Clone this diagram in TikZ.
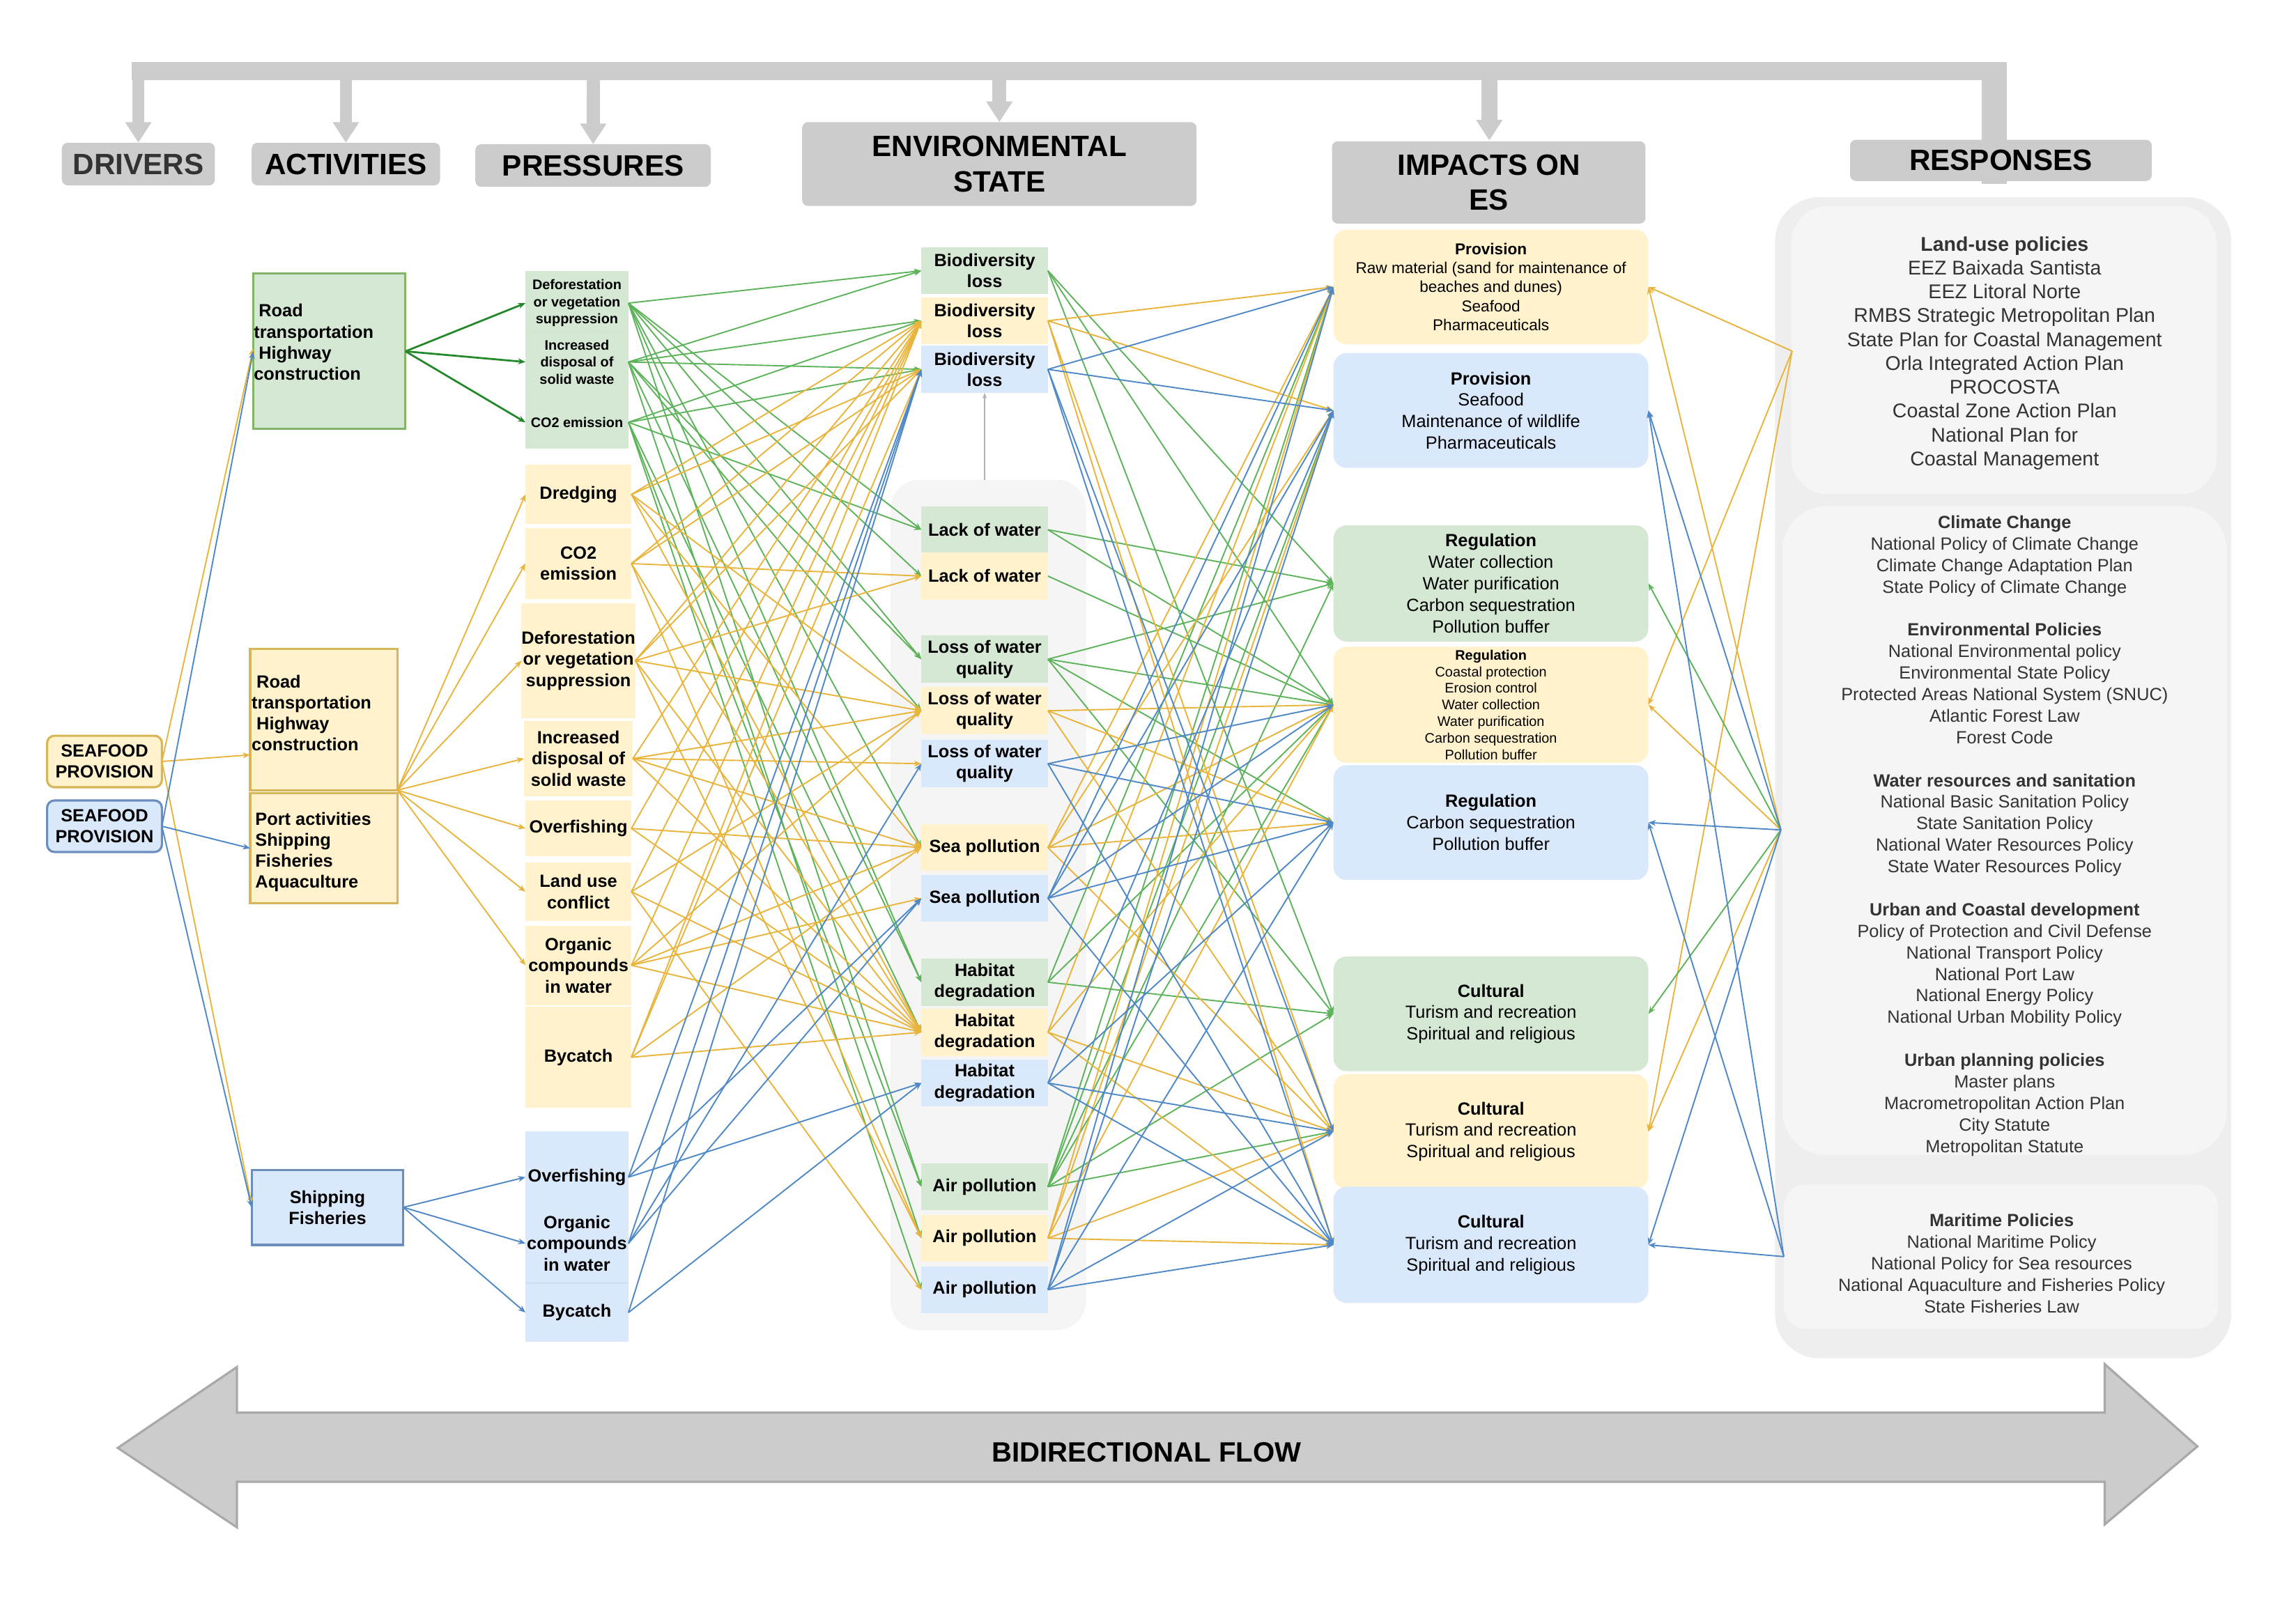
\documentclass[tikz,border=0pt]{standalone}
\usepackage{fontspec}
\setmainfont{Liberation Sans}
\usetikzlibrary{arrows.meta,calc}
\newcommand\myfs[2]{\fontsize{#1}{#2}\selectfont}
\definecolor{gfill}{HTML}{D5E8D4}
\definecolor{gdraw}{HTML}{82B366}
\definecolor{yfill}{HTML}{FFF2CC}
\definecolor{ydraw}{HTML}{D6B656}
\definecolor{bfill}{HTML}{DAE8FC}
\definecolor{bdraw}{HTML}{6C8EBF}
\definecolor{gln}{HTML}{5DB35A}
\definecolor{yln}{HTML}{E8B43C}
\definecolor{bln}{HTML}{4F88C6}
\definecolor{dgln}{HTML}{22882A}
\definecolor{hdrc}{HTML}{CCCCCC}
\definecolor{resout}{HTML}{EEEEEE}
\definecolor{resin}{HTML}{F5F5F5}
\definecolor{txtg}{HTML}{333333}
\definecolor{arre}{HTML}{A9A9A9}
\tikzset{
  every node/.style={inner sep=0pt, outer sep=0pt},
  hdr/.style={fill=hdrc, rounded corners=4pt, font=\bfseries\myfs{20}{24}, align=center},
  drv/.style={rounded corners=5pt, line width=1.5pt, minimum width=78pt, minimum height=35pt, font=\bfseries\myfs{12}{14.4}, align=center},
  actbox/.style={draw, line width=1.5pt},
  acttxt/.style={font=\bfseries\myfs{12}{14.3}, align=left, anchor=west},
  pres/.style={font=\bfseries\myfs{12}{14.4}, align=center, minimum width=72pt},
  presS/.style={font=\bfseries\myfs{9.4}{11.6}, align=center, minimum width=70pt},
  st/.style={font=\bfseries\myfs{12}{14.4}, align=center, minimum width=86pt, minimum height=32pt},
  imp/.style={rounded corners=9pt, align=center, minimum width=214pt, font=\myfs{12}{14.6}},
  resbox/.style={fill=resin, rounded corners=#1},
  restxt/.style={font=\myfs{12}{14.62}, align=center, text=txtg},
  bar/.style={draw=hdrc, line width=#1, -{Triangle[length=14pt,width=17pt]}},
  lnk/.style={line width=0.9pt, -{Stealth[length=5pt,width=4pt]}},
  glink/.style={lnk, draw=gln},
  ylink/.style={lnk, draw=yln},
  blink/.style={lnk, draw=bln},
  dglink/.style={lnk, draw=dgln, line width=1.3pt}
}
\begin{document}
\begin{tikzpicture}[x=1pt,y=-1pt]
\useasboundingbox (0,0) rectangle (1560,1089);

% ---------- top bar ----------
\fill[hdrc] (89.7,42.3) rectangle (1363.7,54.5);
\fill[hdrc] (1346.5,42.3) rectangle (1363.7,125);

% ---------- headers ----------
\node[hdr, text=txtg, minimum width=104pt, minimum height=29pt] (hDrv) at (94,111.5) {DRIVERS};
\node[hdr, minimum width=128pt, minimum height=29pt] (hAct) at (235,111.5) {ACTIVITIES};
\node[hdr, minimum width=160pt, minimum height=29pt] (hPre) at (403,112.5) {PRESSURES};
\node[hdr, minimum width=268pt, minimum height=57pt] (hEnv) at (679,111.5) {ENVIRONMENTAL\\STATE};
\node[hdr, minimum width=213pt, minimum height=56pt] (hImp) at (1011.5,124) {IMPACTS ON\\ES};
\node[hdr, minimum width=205pt, minimum height=28pt] (hRes) at (1359.5,109) {RESPONSES};

\draw[bar=8.3pt] (94,50) -- (hDrv.north);
\draw[bar=8.3pt] (235,50) -- (hAct.north);
\draw[bar=9pt] (403.2,50) -- (hPre.north);
\draw[bar=9.3pt] (679,50) -- (hEnv.north);
\draw[bar=11pt] (1011.9,50) -- (1011.9,95.5);

% ---------- backgrounds ----------
\node[fill=resout, rounded corners=30pt, minimum width=310pt, minimum height=789pt] (resOuter) at (1361,528.5) {};
\node[resbox=25pt, minimum width=289pt, minimum height=196pt] (rb1) at (1361.5,238) {};
\node[resbox=30pt, minimum width=302pt, minimum height=441pt] (rb2) at (1362,564.5) {};
\node[resbox=15pt, minimum width=295pt, minimum height=98pt] (rb3) at (1359.5,854) {};
\node[fill=resin, rounded corners=20pt, minimum width=133pt, minimum height=578pt] (sbg) at (671.5,615) {};

% ---------- responses text ----------
\node[restxt, font=\myfs{13.5}{16.2}] (t1) at (1362,240) {\textbf{Land-use policies}\\EEZ Baixada Santista\\EEZ Litoral Norte\\RMBS Strategic Metropolitan Plan\\State Plan for Coastal Management\\Orla Integrated Action Plan\\PROCOSTA\\Coastal Zone Action Plan\\National Plan for\\Coastal Management};
\node[restxt] (t2) at (1362,568) {\textbf{Climate Change}\\National Policy of Climate Change\\Climate Change Adaptation Plan\\State Policy of Climate Change\\~\\\textbf{Environmental Policies}\\National Environmental policy\\Environmental State Policy\\Protected Areas National System (SNUC)\\Atlantic Forest Law\\Forest Code\\~\\\textbf{Water resources and sanitation}\\National Basic Sanitation Policy\\State Sanitation Policy\\National Water Resources Policy\\State Water Resources Policy\\~\\\textbf{Urban and Coastal development}\\Policy of Protection and Civil Defense\\National Transport Policy\\National Port Law\\National Energy Policy\\National Urban Mobility Policy\\~\\\textbf{Urban planning policies}\\Master plans\\Macrometropolitan Action Plan\\City Statute\\Metropolitan Statute};
\node[restxt] (t3) at (1360,858.5) {\textbf{Maritime Policies}\\National Maritime Policy\\National Policy for Sea resources\\National Aquaculture and Fisheries Policy\\State Fisheries Law};

% ---------- drivers ----------
\node[drv, fill=yfill, draw=ydraw] (dY) at (71,517.5) {SEAFOOD\\PROVISION};
\node[drv, fill=bfill, draw=bdraw] (dB) at (71,561.5) {SEAFOOD\\PROVISION};

% ---------- activities ----------
\node[actbox, fill=gfill, draw=gdraw, minimum width=103.5pt, minimum height=105.5pt] (aG) at (223.75,238.75) {};
\node[acttxt] (aGt) at (172.5,232.5) {~Road\\transportation\\~Highway\\construction};
\node[actbox, fill=yfill, draw=ydraw, minimum width=100pt, minimum height=96pt] (aY1) at (220,489) {};
\node[acttxt] (aY1t) at (171,484.5) {~Road\\transportation\\~Highway\\construction};
\node[actbox, fill=yfill, draw=ydraw, minimum width=100pt, minimum height=75pt] (aY2) at (220,576.5) {};
\node[acttxt] (aY2t) at (173.5,579) {Port activities\\Shipping\\Fisheries\\Aquaculture};
\node[actbox, fill=bfill, draw=bdraw, minimum width=103pt, minimum height=51pt, font=\bfseries\myfs{12}{14.3}, align=center] (aB) at (222.5,820.5) {Shipping\\Fisheries};

% ---------- pressures ----------
\fill[gfill] (357,184) rectangle (427,305);
\draw[gdraw!35, line width=0.6pt] (357,225) -- (427,225);
\node[presS, minimum height=38pt] (pDefG) at (392,206) {Deforestation\\or vegetation\\suppression};
\node[presS, minimum height=38pt] (pIncG) at (392,246) {Increased\\disposal of\\solid waste};
\node[presS, minimum height=20pt] (pCO2G) at (392,287) {CO2 emission};

\node[pres, fill=yfill, minimum height=40pt] (pDre) at (393,336) {Dredging};
\node[pres, fill=yfill, minimum height=48pt] (pCO2Y) at (393,383) {CO2\\emission};
\node[pres, fill=yfill, minimum width=76pt, minimum height=78pt] (pDefY) at (393,449) {Deforestation\\or vegetation\\suppression};
\node[pres, fill=yfill, minimum width=74pt, minimum height=51pt] (pIncY) at (393,515.5) {Increased\\disposal of\\solid waste};
\node[pres, fill=yfill, minimum height=38pt] (pOvY) at (393,563) {Overfishing};
\node[pres, fill=yfill, minimum height=40pt] (pLandY) at (393,606) {Land use\\conflict};
\node[pres, fill=yfill, minimum height=54pt] (pOrgY) at (393,656) {Organic\\compounds\\in water};
\node[pres, fill=yfill, minimum height=69pt] (pBycY) at (393,718.5) {Bycatch};

\fill[bfill] (357,769) rectangle (427,912);
\draw[bdraw!40, line width=0.6pt] (357,872) -- (427,872);
\node[pres, minimum width=70pt, minimum height=30pt] (pOvB) at (392,800) {Overfishing};
\node[pres, minimum width=70pt, minimum height=44pt] (pOrgB) at (392,845) {Organic\\compounds\\in water};
\node[pres, minimum width=70pt, minimum height=30pt] (pBycB) at (392,892) {Bycatch};

% ---------- environmental state ----------
\node[st, fill=gfill] (sBioG) at (669,184) {Biodiversity\\loss};
\node[st, fill=yfill] (sBioY) at (669,218) {Biodiversity\\loss};
\node[st, fill=bfill] (sBioB) at (669,251) {Biodiversity\\loss};
\node[st, fill=gfill] (sLackG) at (669,360) {Lack of water};
\node[st, fill=yfill] (sLackY) at (669,391.5) {Lack of water};
\node[st, fill=gfill] (sLossG) at (669,448) {Loss of water\\quality};
\node[st, fill=yfill] (sLossY) at (669,483) {Loss of water\\quality};
\node[st, fill=bfill] (sLossB) at (669,519) {Loss of water\\quality};
\node[st, fill=yfill] (sSeaY) at (669,576) {Sea pollution};
\node[st, fill=bfill] (sSeaB) at (669,610.5) {Sea pollution};
\node[st, fill=gfill] (sHabG) at (669,667.5) {Habitat\\degradation};
\node[st, fill=yfill] (sHabY) at (669,701.5) {Habitat\\degradation};
\node[st, fill=bfill] (sHabB) at (669,736) {Habitat\\degradation};
\node[st, fill=gfill] (sAirG) at (669,806.5) {Air pollution};
\node[st, fill=yfill] (sAirY) at (669,841.5) {Air pollution};
\node[st, fill=bfill] (sAirB) at (669,876.5) {Air pollution};
\draw[draw=gray!60, line width=0.8pt, -{Stealth[length=4pt,width=3pt]}] (sBioB.south |- sbg.north) -- (sBioB.south);

% ---------- impacts ----------
\node[imp, fill=yfill, minimum height=78pt, font=\myfs{10.7}{13}] (iProvY) at (1013,195) {\textbf{Provision}\\Raw material (sand for maintenance of\\beaches and dunes)\\Seafood\\Pharmaceuticals};
\node[imp, fill=bfill, minimum height=78pt] (iProvB) at (1013,279) {\textbf{Provision}\\Seafood\\Maintenance of wildlife\\Pharmaceuticals};
\node[imp, fill=gfill, minimum height=79pt] (iRegG) at (1013,396.5) {\textbf{Regulation}\\Water collection\\Water purification\\Carbon sequestration\\Pollution buffer};
\node[imp, fill=yfill, minimum height=79pt, font=\myfs{9.4}{11.3}] (iRegY) at (1013,479) {\textbf{Regulation}\\Coastal protection\\Erosion control\\Water collection\\Water purification\\Carbon sequestration\\Pollution buffer};
\node[imp, fill=bfill, minimum height=78pt] (iRegB) at (1013,559) {\textbf{Regulation}\\Carbon sequestration\\Pollution buffer};
\node[imp, fill=gfill, minimum height=78pt] (iCultG) at (1013,689) {\textbf{Cultural}\\Turism and recreation\\Spiritual and religious};
\node[imp, fill=yfill, minimum height=78pt] (iCultY) at (1013,769) {\textbf{Cultural}\\Turism and recreation\\Spiritual and religious};
\node[imp, fill=bfill, minimum height=79pt] (iCultB) at (1013,846) {\textbf{Cultural}\\Turism and recreation\\Spiritual and religious};

% ---------- response anchor points ----------
\coordinate (R1) at (1217.6,238.6);
\coordinate (R2) at (1210,564);
\coordinate (R3) at (1212,854);

% ---------- drivers -> activities ----------
\draw[ylink] (dY.east) -- ($(aY1.west)+(0,24)$);
\draw[ylink] (dY.east) -- ($(aG.west)+(0,-2)$);
\draw[ylink] (dY.east) -- ($(aB.west)+(0,-2)$);
\draw[blink] (dB.east) -- (aY2.west);
\draw[blink] (dB.east) -- (aG.west);
\draw[blink] (dB.east) -- (aB.west);

% ---------- activities -> pressures ----------
\foreach \dst in {pDefG,pIncG,pCO2G} \draw[dglink] (aG.east) -- (\dst.west);
\foreach \dst in {pDre,pCO2Y,pDefY,pIncY,pOvY,pLandY,pOrgY} \draw[ylink] (aY1.south east) -- (\dst.west);
\foreach \dst in {pOvB,pOrgB,pBycB} \draw[blink] (aB.east) -- (\dst.west);

% ---------- pressures -> state ----------
\foreach \src/\dst in {pDefG/sBioG,pDefG/sLackG,pDefG/sLossG,pDefG/sHabG,pDefG/sAirG,pDefG/sSeaY,pDefG/sLackY,
  pIncG/sBioG,pIncG/sBioY,pIncG/sBioB,pIncG/sLossG,pIncG/sHabG,pIncG/sAirY,pIncG/sLossY,
  pCO2G/sBioY,pCO2G/sBioB,pCO2G/sLackG,pCO2G/sAirG,pCO2G/sAirB,pCO2G/sHabY}
  \draw[glink] (\src.east) -- (\dst.west);
\foreach \src/\dst in {pDre/sBioY,pDre/sBioB,pDre/sLossY,pDre/sSeaY,pDre/sHabY,
  pCO2Y/sBioY,pCO2Y/sBioB,pCO2Y/sAirY,pCO2Y/sLackY,pCO2Y/sHabY,
  pDefY/sBioY,pDefY/sBioB,pDefY/sLackY,pDefY/sLossY,pDefY/sHabY,pDefY/sAirY,
  pIncY/sBioY,pIncY/sLossY,pIncY/sLossB,pIncY/sSeaY,pIncY/sHabY,
  pOvY/sBioY,pOvY/sSeaY,pOvY/sHabY,
  pLandY/sBioY,pLandY/sHabY,pLandY/sLossY,pLandY/sAirB,
  pOrgY/sBioY,pOrgY/sLossY,pOrgY/sSeaY,pOrgY/sSeaB,pOrgY/sHabY,
  pBycY/sBioY,pBycY/sBioB,pBycY/sHabY,pBycY/sSeaY}
  \draw[ylink] (\src.east) -- (\dst.west);
\foreach \src/\dst in {pOvB/sBioB,pOvB/sHabB,pOvB/sSeaB,pOrgB/sBioB,pOrgB/sLossB,pOrgB/sSeaB,pBycB/sBioB,pBycB/sHabB}
  \draw[blink] (\src.east) -- (\dst.west);

% ---------- state -> impacts ----------
\foreach \src/\dst in {sBioG/iRegG,sBioG/iRegY,sBioG/iCultG,sLackG/iRegG,sLackG/iRegY,
  sLossG/iRegG,sLossG/iRegY,sLossG/iRegB,sLossG/iCultG,sHabG/iCultG,sHabG/iRegY,sHabG/iProvY,
  sAirG/iProvY,sAirG/iProvB,sAirG/iRegG,sAirG/iRegY,sAirG/iCultG,sAirG/iCultY,sLackY/iRegY}
  \draw[glink] (\src.east) -- (\dst.west);
\foreach \src/\dst in {sBioY/iProvY,sBioY/iProvB,sBioY/iCultY,sBioY/iCultB,
  sLossY/iRegY,sLossY/iRegB,sLossY/iCultY,sSeaY/iProvY,sSeaY/iProvB,sSeaY/iRegY,sSeaY/iRegB,sSeaY/iCultY,
  sHabY/iProvY,sHabY/iRegY,sHabY/iCultY,sHabY/iCultB,sAirY/iProvY,sAirY/iProvB,sAirY/iRegY,sAirY/iCultY,sAirY/iCultB}
  \draw[ylink] (\src.east) -- (\dst.west);
\foreach \src/\dst in {sBioB/iProvY,sBioB/iProvB,sBioB/iCultY,sBioB/iCultB,
  sLossB/iRegY,sLossB/iRegB,sLossB/iCultB,sSeaB/iProvY,sSeaB/iProvB,sSeaB/iRegY,sSeaB/iRegB,sSeaB/iCultB,
  sHabB/iProvB,sHabB/iRegB,sHabB/iCultY,sHabB/iCultB,sAirB/iProvB,sAirB/iProvY,sAirB/iRegB,sAirB/iCultY,sAirB/iCultB}
  \draw[blink] (\src.east) -- (\dst.west);

% ---------- responses -> impacts ----------
\foreach \src/\dst in {R1/iProvY,R1/iRegY,R1/iCultY,R2/iProvY,R2/iRegY,R2/iCultY}
  \draw[ylink] (\src) -- (\dst.east);
\foreach \src/\dst in {R2/iRegG,R2/iCultG}
  \draw[glink] (\src) -- (\dst.east);
\foreach \src/\dst in {R2/iProvB,R2/iRegB,R2/iCultB,R3/iProvB,R3/iRegB,R3/iCultB}
  \draw[blink] (\src) -- (\dst.east);

% ---------- bidirectional flow ----------
\filldraw[fill=hdrc, draw=arre, line width=1.5pt, line join=miter]
  (80,984) -- (161,929) -- (161,960) -- (1430,960) -- (1430,927) -- (1493,983)
  -- (1430,1036) -- (1430,1007) -- (161,1007) -- (161,1038) -- cycle;
\node[font=\bfseries\myfs{19}{22}] (flow) at (779,987) {BIDIRECTIONAL FLOW};
\end{tikzpicture}
\end{document}
